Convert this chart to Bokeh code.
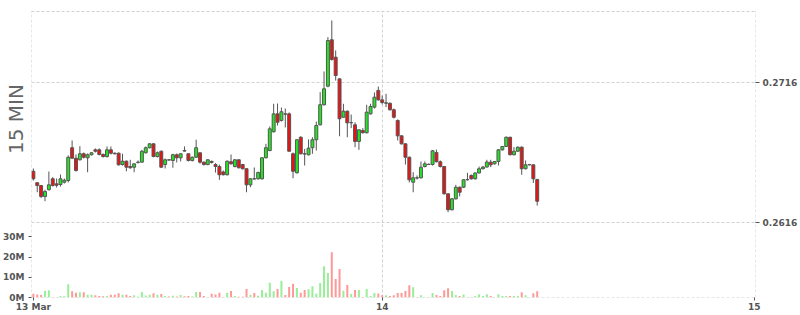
from bokeh.plotting import figure
from bokeh.layouts import column
from bokeh.models import (ColumnDataSource, Range1d, LinearAxis, FixedTicker, Grid,
                          PrintfTickFormatter)
from bokeh.embed import file_html
from bokeh.resources import INLINE

interval_label = "15 MIN"
start_hour = 1.5          # first bar: 13 Mar 01:30 (hours from 13 Mar 00:00)
bar_hours = 0.25          # 15-minute bars
day_ticks = [1.5, 24, 48]
day_labels = ["13 Mar", "14", "15"]
price_ticks = [0.2616, 0.2716]
volume_ticks = [0, 10, 20, 30]   # millions

opens = [0.26526, 0.26444, 0.26424, 0.26346, 0.26394, 0.26472, 0.26436, 0.26431, 0.26448, 0.26460,
         0.26694, 0.26619, 0.26608, 0.26651, 0.26622, 0.26644, 0.26679, 0.26679, 0.26646, 0.26631,
         0.26679, 0.26655, 0.26655, 0.26574, 0.26598, 0.26560, 0.26555, 0.26589, 0.26591, 0.26658,
         0.26694, 0.26722, 0.26631, 0.26669, 0.26574, 0.26608, 0.26603, 0.26644, 0.26622, 0.26674,
         0.26651, 0.26603, 0.26626, 0.26658, 0.26591, 0.26574, 0.26596, 0.26574, 0.26560, 0.26521,
         0.26501, 0.26594, 0.26560, 0.26608, 0.26574, 0.26544, 0.26429, 0.26472, 0.26472, 0.26472,
         0.26622, 0.26674, 0.26808, 0.26936, 0.26889, 0.26936, 0.26936, 0.26651, 0.26515, 0.26769,
         0.26651, 0.26644, 0.26694, 0.26751, 0.26858, 0.27001, 0.27134, 0.27465, 0.27341, 0.27186,
         0.26912, 0.26955, 0.26872, 0.26858, 0.26739, 0.26817, 0.26801, 0.26936, 0.26984, 0.27103,
         0.27036, 0.27012, 0.27012, 0.26965, 0.26889, 0.26779, 0.26722, 0.26626, 0.26448, 0.26479,
         0.26479, 0.26560, 0.26574, 0.26574, 0.26660, 0.26594, 0.26560, 0.26365, 0.26251, 0.26329,
         0.26412, 0.26412, 0.26465, 0.26496, 0.26472, 0.26514, 0.26544, 0.26556, 0.26591, 0.26579,
         0.26596, 0.26679, 0.26703, 0.26769, 0.26644, 0.26669, 0.26698, 0.26544, 0.26572, 0.26572,
         0.26467]
highs = [0.26546, 0.26448, 0.26428, 0.26394, 0.26524, 0.26484, 0.26474, 0.26503, 0.26474, 0.26639,
         0.26746, 0.26646, 0.26705, 0.26660, 0.26653, 0.26660, 0.26689, 0.26689, 0.26653, 0.26703,
         0.26703, 0.26660, 0.26660, 0.26651, 0.26603, 0.26608, 0.26581, 0.26603, 0.26679, 0.26703,
         0.26726, 0.26724, 0.26667, 0.26674, 0.26617, 0.26610, 0.26651, 0.26653, 0.26653, 0.26703,
         0.26653, 0.26631, 0.26751, 0.26660, 0.26596, 0.26612, 0.26603, 0.26584, 0.26574, 0.26531,
         0.26603, 0.26646, 0.26612, 0.26610, 0.26579, 0.26546, 0.26476, 0.26553, 0.26524, 0.26624,
         0.26722, 0.26846, 0.27008, 0.27010, 0.26981, 0.26974, 0.26946, 0.26660, 0.26753, 0.26776,
         0.26686, 0.26753, 0.26769, 0.26881, 0.27091, 0.27239, 0.27484, 0.27603, 0.27389, 0.27189,
         0.27008, 0.26960, 0.26931, 0.26876, 0.26824, 0.26834, 0.27001, 0.27008, 0.27089, 0.27131,
         0.27067, 0.27079, 0.27017, 0.26974, 0.26896, 0.26781, 0.26724, 0.26631, 0.26519, 0.26496,
         0.26596, 0.26596, 0.26581, 0.26678, 0.26681, 0.26603, 0.26564, 0.26367, 0.26335, 0.26429,
         0.26417, 0.26467, 0.26515, 0.26503, 0.26517, 0.26560, 0.26564, 0.26608, 0.26608, 0.26599,
         0.26685, 0.26706, 0.26774, 0.26772, 0.26698, 0.26703, 0.26703, 0.26603, 0.26578, 0.26574,
         0.26472]
lows = [0.26460, 0.26376, 0.26334, 0.26312, 0.26389, 0.26417, 0.26410, 0.26417, 0.26439, 0.26446,
        0.26617, 0.26524, 0.26603, 0.26617, 0.26519, 0.26639, 0.26660, 0.26639, 0.26624, 0.26624,
        0.26646, 0.26646, 0.26567, 0.26567, 0.26526, 0.26544, 0.26519, 0.26581, 0.26589, 0.26653,
        0.26689, 0.26626, 0.26624, 0.26551, 0.26546, 0.26603, 0.26551, 0.26589, 0.26596, 0.26667,
        0.26596, 0.26596, 0.26622, 0.26581, 0.26567, 0.26569, 0.26581, 0.26517, 0.26465, 0.26496,
        0.26496, 0.26574, 0.26553, 0.26546, 0.26539, 0.26376, 0.26412, 0.26467, 0.26467, 0.26467,
        0.26619, 0.26669, 0.26803, 0.26853, 0.26881, 0.26839, 0.26667, 0.26476, 0.26510, 0.26646,
        0.26567, 0.26639, 0.26651, 0.26674, 0.26853, 0.26996, 0.27126, 0.27317, 0.27174, 0.26776,
        0.26910, 0.26769, 0.26834, 0.26698, 0.26679, 0.26796, 0.26796, 0.26931, 0.26974, 0.27031,
        0.27003, 0.26984, 0.26960, 0.26903, 0.26746, 0.26717, 0.26574, 0.26446, 0.26376, 0.26467,
        0.26474, 0.26553, 0.26571, 0.26567, 0.26589, 0.26553, 0.26360, 0.26234, 0.26246, 0.26324,
        0.26346, 0.26406, 0.26460, 0.26467, 0.26467, 0.26510, 0.26539, 0.26553, 0.26556, 0.26574,
        0.26567, 0.26674, 0.26699, 0.26639, 0.26639, 0.26667, 0.26501, 0.26539, 0.26567, 0.26442,
        0.26281]
closes = [0.26472, 0.26424, 0.26346, 0.26381, 0.26429, 0.26424, 0.26426, 0.26472, 0.26462, 0.26626,
          0.26619, 0.26531, 0.26651, 0.26626, 0.26644, 0.26658, 0.26669, 0.26646, 0.26631, 0.26679,
          0.26655, 0.26651, 0.26572, 0.26598, 0.26555, 0.26551, 0.26579, 0.26591, 0.26669, 0.26694,
          0.26722, 0.26631, 0.26658, 0.26555, 0.26608, 0.26606, 0.26644, 0.26622, 0.26651, 0.26670,
          0.26603, 0.26626, 0.26694, 0.26591, 0.26574, 0.26608, 0.26589, 0.26560, 0.26501, 0.26501,
          0.26598, 0.26579, 0.26608, 0.26551, 0.26544, 0.26429, 0.26472, 0.26471, 0.26517, 0.26622,
          0.26694, 0.26829, 0.26936, 0.26876, 0.26951, 0.26934, 0.26669, 0.26526, 0.26751, 0.26651,
          0.26649, 0.26691, 0.26751, 0.26853, 0.27001, 0.27115, 0.27460, 0.27324, 0.27210, 0.26901,
          0.26955, 0.26872, 0.26874, 0.26739, 0.26822, 0.26801, 0.26948, 0.26989, 0.27055, 0.27036,
          0.27017, 0.27015, 0.26965, 0.26912, 0.26779, 0.26722, 0.26626, 0.26465, 0.26479, 0.26478,
          0.26555, 0.26579, 0.26576, 0.26672, 0.26594, 0.26560, 0.26365, 0.26251, 0.26329, 0.26412,
          0.26376, 0.26465, 0.26467, 0.26472, 0.26514, 0.26544, 0.26556, 0.26592, 0.26572, 0.26596,
          0.26679, 0.26703, 0.26769, 0.26644, 0.26669, 0.26698, 0.26544, 0.26572, 0.26574, 0.26472,
          0.26312]
volumes_m = [1.8, 1.5, 1.2, 3.3, 3.6, 0.1, 0.1, 0.7, 0.6, 6.6,
             3.1, 2.3, 2.6, 2.6, 1.3, 1.3, 1.1, 0.7, 0.6, 0.8,
             1.3, 1.3, 2.1, 1.3, 1.3, 0.8, 1.1, 0.4, 2.7, 1.0,
             1.3, 2.1, 1.4, 1.7, 0.8, 0.5, 0.9, 0.5, 1.2, 0.6,
             0.7, 0.5, 2.7, 2.7, 0.8, 0.3, 1.8, 1.5, 2.3, 0.2,
             2.3, 3.2, 0.8, 0.4, 0.4, 4.2, 1.3, 2.2, 0.9, 3.7,
             2.3, 7.3, 3.1, 4.2, 8.1, 1.2, 5.2, 6.8, 4.7, 2.3,
             3.7, 4.1, 5.6, 1.9, 7.2, 15.5, 12.1, 22.4, 9.1, 14.1,
             3.3, 6.2, 1.7, 3.7, 3.7, 0.3, 4.2, 0.8, 2.2, 2.0,
             1.1, 1.1, 0.7, 1.1, 2.2, 2.2, 3.2, 6.1, 5.1, 0.3,
             1.1, 0.3, 0.3, 2.2, 1.2, 0.7, 3.6, 4.6, 3.2, 1.2,
             0.8, 1.5, 0.2, 0.2, 0.7, 1.6, 0.7, 1.6, 0.7, 0.3,
             1.6, 0.8, 0.7, 0.7, 0.7, 0.7, 2.6, 1.1, 0.2, 2.1,
             3.1]

UP, DOWN = "#22e622", "#ee1111"
VOL_UP, VOL_DOWN = "#99ee99", "#ff9999"
EDGE = "#555555"
GRID = "#d0d0d0"
TEXT = "#555555"

X0, X1 = 1.38, 48.08            # visible time window (hours)
P0, P1 = 0.261243, 0.276743     # visible price window
V1 = 34.6                       # visible volume window top (millions)
# frame border lines are drawn half a pixel inside the frame
X_IN = 0.5 * (X1 - X0) / 727
P_IN = 0.5 * (P1 - P0) / 217
V_IN = 0.5 * V1 / 70

hours = [start_hour + i * bar_hours for i in range(len(opens))]
up = [c >= o for o, c in zip(opens, closes)]
src = ColumnDataSource(dict(
    x=hours, open=opens, high=highs, low=lows, close=closes, vol=volumes_m,
    top=[max(o, c) for o, c in zip(opens, closes)],
    bottom=[min(o, c) for o, c in zip(opens, closes)],
    fill=[UP if u else DOWN for u in up],
    vfill=[VOL_UP if u else VOL_DOWN for u in up],
))

x_range = Range1d(X0, X1)


def base_fig(height, y_range, top, bottom):
    f = figure(width=800, height=height, output_backend="svg", toolbar_location=None,
               x_range=x_range, y_range=y_range,
               x_axis_location=None, y_axis_location=None,
               min_border_left=31, min_border_right=42,
               min_border_top=top, min_border_bottom=bottom)
    f.xgrid.visible = False
    f.ygrid.visible = False
    f.outline_line_color = None
    f.background_fill_color = "white"
    f.border_fill_color = "white"
    return f


def style_axis(ax, tick_out, standoff):
    ax.axis_line_color = None
    ax.major_tick_line_color = EDGE
    ax.major_tick_in = 0
    ax.major_tick_out = tick_out
    ax.minor_tick_line_color = None
    ax.major_label_text_font = "DejaVu Sans"
    ax.major_label_text_font_style = "bold"
    ax.major_label_text_font_size = "9px"
    ax.major_label_text_color = TEXT
    ax.major_label_standoff = standoff


def dashed_grid(dim, ticks):
    return Grid(dimension=dim, ticker=FixedTicker(ticks=ticks),
                grid_line_color=GRID, grid_line_dash="3 2")


# ---------------- price panel ----------------
pp = base_fig(227, Range1d(P0, P1), 10, 0)

name_axis = LinearAxis(ticker=FixedTicker(ticks=[]), axis_label=interval_label)
name_axis.axis_line_color = None
name_axis.major_tick_line_color = None
name_axis.minor_tick_line_color = None
name_axis.axis_label_text_font = "DejaVu Sans"
name_axis.axis_label_text_font_style = "normal"
name_axis.axis_label_text_font_size = "20px"
name_axis.axis_label_text_color = "#666666"
name_axis.axis_label_standoff = 4
pp.add_layout(name_axis, "left")

price_axis = LinearAxis(ticker=FixedTicker(ticks=price_ticks),
                        formatter=PrintfTickFormatter(format="%.4f"))
style_axis(price_axis, 4, 3)
pp.add_layout(price_axis, "right")

pp.add_layout(dashed_grid(0, [X0 + X_IN, 24, X1 - X_IN]))
pp.add_layout(dashed_grid(1, price_ticks + [P1 - P_IN]))

pp.segment(x0="x", y0="high", x1="x", y1="low", source=src, line_color=EDGE, line_width=1)
pp.vbar(x="x", top="top", bottom="bottom", width=0.19, source=src,
        fill_color="fill", line_color=EDGE, line_width=1)

# ---------------- volume panel ----------------
vp = base_fig(88, Range1d(0, V1), 0, 18)

xaxis = LinearAxis(ticker=FixedTicker(ticks=day_ticks),
                   major_label_overrides=dict(zip(day_ticks, day_labels)))
style_axis(xaxis, 3, 1)
vp.add_layout(xaxis, "below")

vol_axis = LinearAxis(ticker=FixedTicker(ticks=volume_ticks),
                      formatter=PrintfTickFormatter(format="%dM"))
style_axis(vol_axis, 3, 4)
vp.add_layout(vol_axis, "left")

vp.add_layout(dashed_grid(0, [X0 + X_IN, 24, X1 - X_IN]))
vp.add_layout(dashed_grid(1, [V_IN]))

vp.vbar(x="x", top="vol", bottom=0, width=0.13, source=src,
        fill_color="vfill", line_color=None)

layout = column(pp, vp, spacing=0)
open("out.html", "w").write(file_html(layout, INLINE))
